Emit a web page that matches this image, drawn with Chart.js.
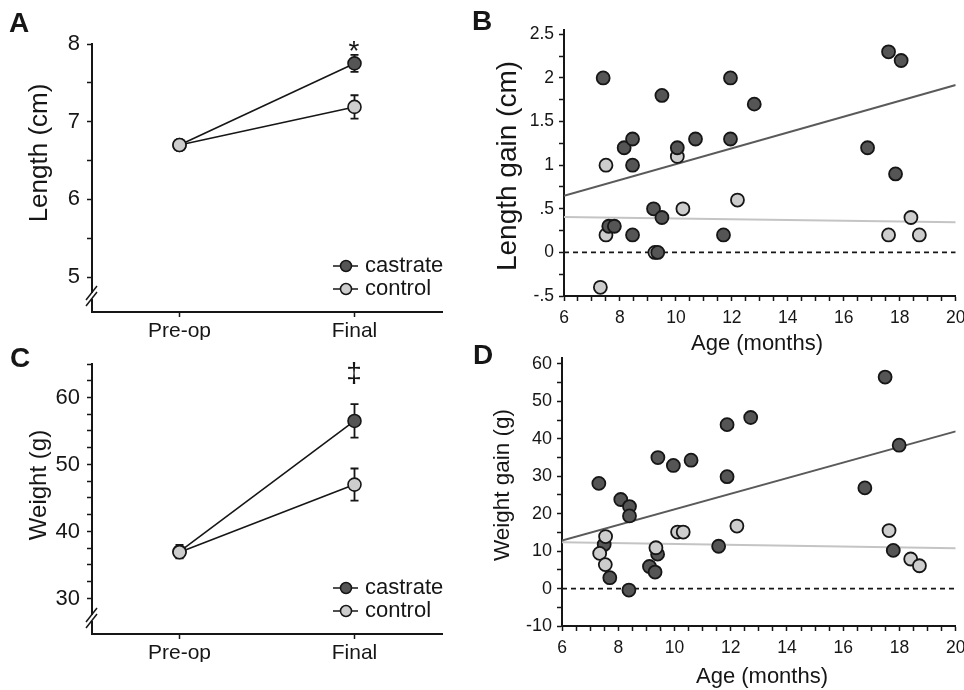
<!DOCTYPE html>
<html>
<head>
<meta charset="utf-8">
<script src="https://cdn.jsdelivr.net/npm/chart.js@4.4.0/dist/chart.umd.min.js"></script>
<style>
  html, body { margin: 0; padding: 0; background: #fff; }
  #wrap { position: relative; width: 964px; height: 690px; overflow: hidden; }
  canvas { position: absolute; left: 0; top: 0; }
</style>
</head>
<body>
<div id="wrap">
  <canvas id="chartA" width="964" height="690"></canvas>
  <canvas id="chartB" width="964" height="690"></canvas>
  <canvas id="chartC" width="964" height="690"></canvas>
  <canvas id="chartD" width="964" height="690"></canvas>
</div>
<script>
// ---- data ----
const groups = ['Pre-op', 'Final'];
const seriesNames = ['castrate', 'control'];

const lengthCastrate = [6.70, 7.75];
const lengthCastrateErr = [0.05, 0.11];
const lengthControl = [6.70, 7.19];
const lengthControlErr = [0.05, 0.15];

const weightCastrate = [37.0, 56.5];
const weightCastrateErr = [1.0, 2.5];
const weightControl = [36.9, 47.0];
const weightControlErr = [0.8, 2.4];

// panel B: length gain vs age
const lenCastrateAge  = [7.4, 7.6, 7.8, 8.15, 8.45, 8.45, 8.45, 9.2, 9.35, 9.5, 9.5, 10.05, 10.7, 11.7, 11.95, 11.95, 12.8, 16.85, 17.6, 17.85, 18.05];
const lenCastrateGain = [2.0, 0.3, 0.3, 1.2, 1.3, 1.0, 0.2, 0.5, 0.0, 1.8, 0.4, 1.2, 1.3, 0.2, 2.0, 1.3, 1.7, 1.2, 2.3, 0.9, 2.2];
const lenControlAge   = [7.3, 7.5, 7.5, 9.25, 10.05, 10.25, 12.2, 17.6, 18.4, 18.7];
const lenControlGain  = [-0.4, 1.0, 0.2, 0.0, 1.1, 0.5, 0.6, 0.2, 0.4, 0.2];

// panel D: weight gain vs age
const wtCastrateAge  = [7.31, 7.50, 7.70, 8.09, 8.40, 8.40, 8.38, 9.11, 9.31, 9.40, 9.41, 9.96, 10.59, 11.57, 11.87, 11.87, 12.71, 16.77, 17.49, 17.78, 17.99];
const wtCastrateGain = [28.1, 11.8, 2.9, 23.8, 21.9, 19.4, -0.4, 5.9, 4.4, 9.2, 35.0, 32.9, 34.3, 11.3, 43.8, 29.9, 45.7, 26.9, 56.5, 10.2, 38.3];
const wtControlAge   = [7.34, 7.54, 7.55, 9.34, 10.11, 10.31, 12.22, 17.63, 18.40, 18.71];
const wtControlGain  = [9.4, 6.4, 13.9, 10.9, 15.1, 15.1, 16.7, 15.5, 7.9, 6.1];

// regression lines (end points) and zero reference
const fitAge = [6, 20];
const lenFitCastrate = [0.65, 1.92];
const lenFitControl = [0.405, 0.345];
const wtFitCastrate = [12.8, 42.0];
const wtFitControl = [12.4, 10.8];
const zeroLine = [0, 0];

// tick values (major labelled, minor unlabelled)
const lengthMajor = [5, 6, 7, 8];
const weightMajor = [30, 40, 50, 60];
const lenGainMajor = [-0.5, 0, 0.5, 1, 1.5, 2, 2.5];
const wtGainMajor = [-10, 0, 10, 20, 30, 40, 50, 60];
const ageMajor = [6, 8, 10, 12, 14, 16, 18, 20];

const FONT = "'Liberation Sans', Arial, Helvetica, sans-serif";
const INK = '#161616';
const DARK = '#555555';
const LIGHT = '#cdcdcd';

function withMinor(major, step, lo, hi) {
  const out = [];
  for (let v = lo; v <= hi + 1e-9; v += step) out.push(Math.round(v * 1000) / 1000);
  return out;
}
function isMajor(list) {
  return v => list.some(m => Math.abs(m - v) < 1e-6);
}
function pts(xs, ys) {
  return xs.map((x, i) => ({ x: x, y: ys[i] }));
}
function shortNum(v) {
  if (v === 0) return '0';
  return String(v).replace(/^(-?)0\./, '$1.');
}
// keep chart areas exactly where the layout padding puts them
function noPad(s) {
  s.paddingLeft = 0; s.paddingRight = 0; s.paddingTop = 0; s.paddingBottom = 0;
}

function yAxis(min, max, tickVals, major, size, width, pad) {
  const ok = isMajor(major);
  return {
    type: 'linear', min: min, max: max,
    afterBuildTicks: s => { s.ticks = tickVals.map(v => ({ value: v })); },
    afterFit: s => { s.width = width; noPad(s); },
    ticks: {
      autoSkip: false, padding: pad, color: INK,
      font: { family: FONT, size: size },
      callback: v => ok(v) ? shortNum(v) : ''
    },
    grid: { drawOnChartArea: false, drawTicks: true, tickLength: 5, tickColor: INK, tickWidth: 1.5 },
    border: { display: true, color: INK, width: 2 }
  };
}
function xLinear(min, max, tickVals, major, size, height, pad) {
  const ok = isMajor(major);
  return {
    type: 'linear', min: min, max: max,
    afterBuildTicks: s => { s.ticks = tickVals.map(v => ({ value: v })); },
    afterFit: s => { s.height = height; noPad(s); },
    ticks: {
      autoSkip: false, maxRotation: 0, padding: pad, color: INK,
      font: { family: FONT, size: size },
      callback: v => ok(v) ? String(v) : ''
    },
    grid: { drawOnChartArea: false, drawTicks: true, tickLength: 5, tickColor: INK, tickWidth: 1.5 },
    border: { display: true, color: INK, width: 2 }
  };
}
function xCategory(height) {
  return {
    type: 'category', offset: true,
    afterFit: s => { s.height = height; noPad(s); },
    ticks: { autoSkip: false, maxRotation: 0, padding: 2, color: INK, font: { family: FONT, size: 21 } },
    grid: { offset: false, drawOnChartArea: false, drawTicks: true, tickLength: 5, tickColor: INK, tickWidth: 1.5 },
    border: { display: true, color: INK, width: 2 }
  };
}

// error bars, texts, legends, axis breaks
const decor = {
  id: 'decor',
  beforeDatasetsDraw(chart) {
    const ctx = chart.ctx, y = chart.scales.y;
    chart.data.datasets.forEach((ds, i) => {
      if (!ds.err) return;
      const meta = chart.getDatasetMeta(i);
      ctx.save();
      ctx.strokeStyle = INK;
      ctx.lineWidth = 1.8;
      meta.data.forEach((p, j) => {
        const t = y.getPixelForValue(ds.data[j] + ds.err[j]);
        const b = y.getPixelForValue(ds.data[j] - ds.err[j]);
        ctx.beginPath();
        ctx.moveTo(p.x, t); ctx.lineTo(p.x, b);
        ctx.moveTo(p.x - 4, t); ctx.lineTo(p.x + 4, t);
        ctx.moveTo(p.x - 4, b); ctx.lineTo(p.x + 4, b);
        ctx.stroke();
      });
      ctx.restore();
    });
  },
  afterDraw(chart, args, opts) {
    const ctx = chart.ctx;
    ctx.save();
    if (opts.breakAt) {
      const bx = chart.chartArea.left, by = opts.breakAt;
      ctx.fillStyle = '#fff';
      ctx.fillRect(bx - 3, by - 3, 6, 6);
      ctx.strokeStyle = INK;
      ctx.lineWidth = 1.5;
      [-3, 3].forEach(o => {
        ctx.beginPath();
        ctx.moveTo(bx - 6, by + 7 + o);
        ctx.lineTo(bx + 5, by - 7 + o);
        ctx.stroke();
      });
    }
    (opts.legend || []).forEach(l => {
      ctx.strokeStyle = INK;
      ctx.lineWidth = 1.5;
      ctx.beginPath();
      ctx.moveTo(l.x - 13, l.y); ctx.lineTo(l.x + 12, l.y);
      ctx.stroke();
      ctx.beginPath();
      ctx.arc(l.x, l.y, 5.5, 0, Math.PI * 2);
      ctx.fillStyle = l.fill;
      ctx.fill();
      ctx.stroke();
      ctx.fillStyle = INK;
      ctx.font = '22px ' + FONT;
      ctx.textAlign = 'left';
      ctx.textBaseline = 'middle';
      ctx.fillText(l.label, l.x + 19, l.y);
    });
    (opts.texts || []).forEach(t => {
      ctx.save();
      ctx.translate(t.x, t.y);
      if (t.rot) ctx.rotate(-Math.PI / 2);
      ctx.fillStyle = INK;
      ctx.font = (t.bold ? 'bold ' : '') + t.size + 'px ' + FONT;
      ctx.textAlign = 'center';
      ctx.textBaseline = t.base || 'middle';
      ctx.fillText(t.t, 0, 0);
      ctx.restore();
    });
    ctx.restore();
  }
};

const common = {
  responsive: false,
  animation: false,
  events: [],
};

function lineDs(label, data, err, fill, order) {
  return {
    label: label, data: data, err: err,
    borderColor: INK, borderWidth: 1.6,
    pointRadius: 6.5, pointBackgroundColor: fill,
    pointBorderColor: INK, pointBorderWidth: 1.6,
    order: order
  };
}
function dotDs(label, xs, ys, fill, order) {
  return {
    type: 'scatter', label: label, data: pts(xs, ys),
    pointRadius: 6.5, pointBackgroundColor: fill,
    pointBorderColor: INK, pointBorderWidth: 1.8,
    showLine: false, order: order
  };
}
function fitDs(ys, color, order, dash) {
  return {
    type: 'line', data: pts(fitAge, ys),
    borderColor: color, borderWidth: dash ? 1.8 : 2, borderDash: dash || [],
    pointRadius: 0, fill: false, order: order
  };
}

// ---- panel A ----
new Chart(document.getElementById('chartA'), {
  type: 'line',
  data: {
    labels: groups,
    datasets: [
      lineDs(seriesNames[0], lengthCastrate, lengthCastrateErr, DARK, 2),
      lineDs(seriesNames[1], lengthControl, lengthControlErr, LIGHT, 1)
    ]
  },
  options: Object.assign({}, common, {
    layout: { padding: { left: 0, top: 44, right: 522, bottom: 350 } },
    scales: {
      x: xCategory(28),
      y: yAxis(4.55, 8, withMinor(lengthMajor, 0.5, 5, 8), lengthMajor, 22, 92, 7)
    },
    plugins: {
      legend: { display: false }, tooltip: { enabled: false },
      decor: {
        breakAt: 296,
        legend: [
          { x: 346, y: 266, fill: DARK, label: seriesNames[0] },
          { x: 346, y: 289, fill: LIGHT, label: seriesNames[1] }
        ],
        texts: [
          { t: 'A', x: 19, y: 24, size: 28, bold: true },
          { t: 'Length (cm)', x: 40, y: 153, size: 26, rot: true },
          { t: '*', x: 354, y: 60, size: 28, base: 'alphabetic' }
        ]
      }
    }
  }),
  plugins: [decor]
});

// ---- panel B ----
new Chart(document.getElementById('chartB'), {
  type: 'scatter',
  data: {
    datasets: [
      fitDs(zeroLine, INK, 5, [5, 4]),
      fitDs(lenFitControl, '#c4c4c4', 4),
      fitDs(lenFitCastrate, '#5a5a5a', 3),
      dotDs(seriesNames[1], lenControlAge, lenControlGain, LIGHT, 2),
      dotDs(seriesNames[0], lenCastrateAge, lenCastrateGain, DARK, 1)
    ]
  },
  options: Object.assign({}, common, {
    layout: { padding: { left: 482, top: 30, right: 7, bottom: 364 } },
    scales: {
      x: xLinear(6, 20, withMinor(ageMajor, 0.5, 6, 20), ageMajor, 17.5, 30, 7),
      y: yAxis(-0.5, 2.55, withMinor(lenGainMajor, 0.25, -0.5, 2.5), lenGainMajor, 17.5, 82, 5)
    },
    plugins: {
      legend: { display: false }, tooltip: { enabled: false },
      decor: {
        texts: [
          { t: 'B', x: 482, y: 22, size: 28, bold: true },
          { t: 'Length gain (cm)', x: 508, y: 166, size: 28, rot: true },
          { t: 'Age (months)', x: 757, y: 350, size: 22, base: 'alphabetic' }
        ]
      }
    }
  }),
  plugins: [decor]
});

// ---- panel C ----
new Chart(document.getElementById('chartC'), {
  type: 'line',
  data: {
    labels: groups,
    datasets: [
      lineDs(seriesNames[0], weightCastrate, weightCastrateErr, DARK, 2),
      lineDs(seriesNames[1], weightControl, weightControlErr, LIGHT, 1)
    ]
  },
  options: Object.assign({}, common, {
    layout: { padding: { left: 0, top: 364, right: 522, bottom: 28 } },
    scales: {
      x: xCategory(28),
      y: yAxis(24.7, 65, withMinor(weightMajor, 2.5, 30, 65), weightMajor, 22, 92, 7)
    },
    plugins: {
      legend: { display: false }, tooltip: { enabled: false },
      decor: {
        breakAt: 618,
        legend: [
          { x: 346, y: 588, fill: DARK, label: seriesNames[0] },
          { x: 346, y: 611, fill: LIGHT, label: seriesNames[1] }
        ],
        texts: [
          { t: 'C', x: 20, y: 359, size: 28, bold: true },
          { t: 'Weight (g)', x: 39, y: 485, size: 24, rot: true },
          { t: '\u2021', x: 354, y: 382, size: 28, base: 'alphabetic' }
        ]
      }
    }
  }),
  plugins: [decor]
});

// ---- panel D ----
new Chart(document.getElementById('chartD'), {
  type: 'scatter',
  data: {
    datasets: [
      fitDs(zeroLine, INK, 5, [5, 4]),
      fitDs(wtFitControl, '#c4c4c4', 4),
      fitDs(wtFitCastrate, '#5a5a5a', 3),
      dotDs(seriesNames[0], wtCastrateAge, wtCastrateGain, DARK, 2),
      dotDs(seriesNames[1], wtControlAge, wtControlGain, LIGHT, 1)
    ]
  },
  options: Object.assign({}, common, {
    layout: { padding: { left: 480, top: 358, right: 8, bottom: 34 } },
    scales: {
      x: xLinear(6, 20, withMinor(ageMajor, 0.5, 6, 20), ageMajor, 17.5, 30, 7),
      y: yAxis(-10, 61.6, withMinor(wtGainMajor, 5, -10, 60), wtGainMajor, 18, 82, 5)
    },
    plugins: {
      legend: { display: false }, tooltip: { enabled: false },
      decor: {
        texts: [
          { t: 'D', x: 483, y: 356, size: 28, bold: true },
          { t: 'Weight gain (g)', x: 503, y: 485, size: 22.5, rot: true },
          { t: 'Age (months)', x: 762, y: 683, size: 22, base: 'alphabetic' }
        ]
      }
    }
  }),
  plugins: [decor]
});
</script>
</body>
</html>
